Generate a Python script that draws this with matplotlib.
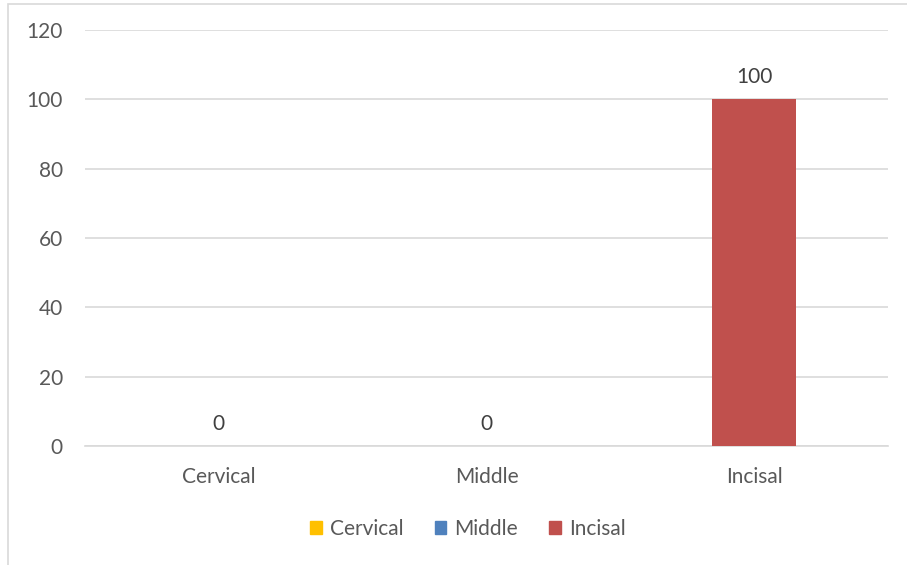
import matplotlib
matplotlib.use("Agg")
import matplotlib.pyplot as plt
from matplotlib.patches import Rectangle, Patch

categories = ["Cervical", "Middle", "Incisal"]
values = [0, 0, 100]
colors = ["#ffc000", "#4f81bd", "#c0504d"]
yticks = [0, 20, 40, 60, 80, 100, 120]

plt.rcParams['font.family'] = ['Lato', 'DejaVu Sans']
text_color = "#595959"
grid_color = "#d9d9d9"
fs = 15

fig = plt.figure(figsize=(9.07, 5.65), dpi=100)
# outer chart frame, cut at right and bottom like the source
fig.patches.append(Rectangle((8 / 907, -0.01), 1.0, 1 - 4 / 565 + 0.01,
                             transform=fig.transFigure, fill=False,
                             edgecolor=grid_color, linewidth=1.2))

ax = fig.add_axes([85 / 907, 1 - 446 / 565, (888 - 85) / 907, (446 - 30) / 565])
x = range(len(categories))
bars = ax.bar(x, values, width=0.315, color=colors, zorder=3)

for xi, v in zip(x, values):
    ax.text(xi, v + 3.5, str(v), ha='center', va='bottom', fontsize=fs, color="#404040")

ax.set_xlim(-0.5, 2.5)
ax.set_ylim(0, 120)
ax.set_yticks(yticks)
ax.set_xticks(list(x))
ax.set_xticklabels(categories)
ax.tick_params(axis='both', length=0, labelsize=fs, labelcolor=text_color)
ax.tick_params(axis='y', pad=16)
ax.tick_params(axis='x', pad=15)
ax.grid(axis='y', color=grid_color, linewidth=1.2, zorder=0)
for s in ['top', 'right', 'left']:
    ax.spines[s].set_visible(False)
ax.spines['bottom'].set_color(grid_color)
ax.spines['bottom'].set_linewidth(1.2)

handles = [Patch(color=c, label=l) for c, l in zip(colors, categories)]
fig.legend(handles=handles, loc='center', bbox_to_anchor=(468 / 907, 1 - 529 / 565),
           ncol=3, frameon=False, fontsize=fs, labelcolor=text_color,
           handlelength=0.55, handleheight=0.55, handletextpad=0.4, columnspacing=1.5)

fig.savefig("out.png", dpi=100)
